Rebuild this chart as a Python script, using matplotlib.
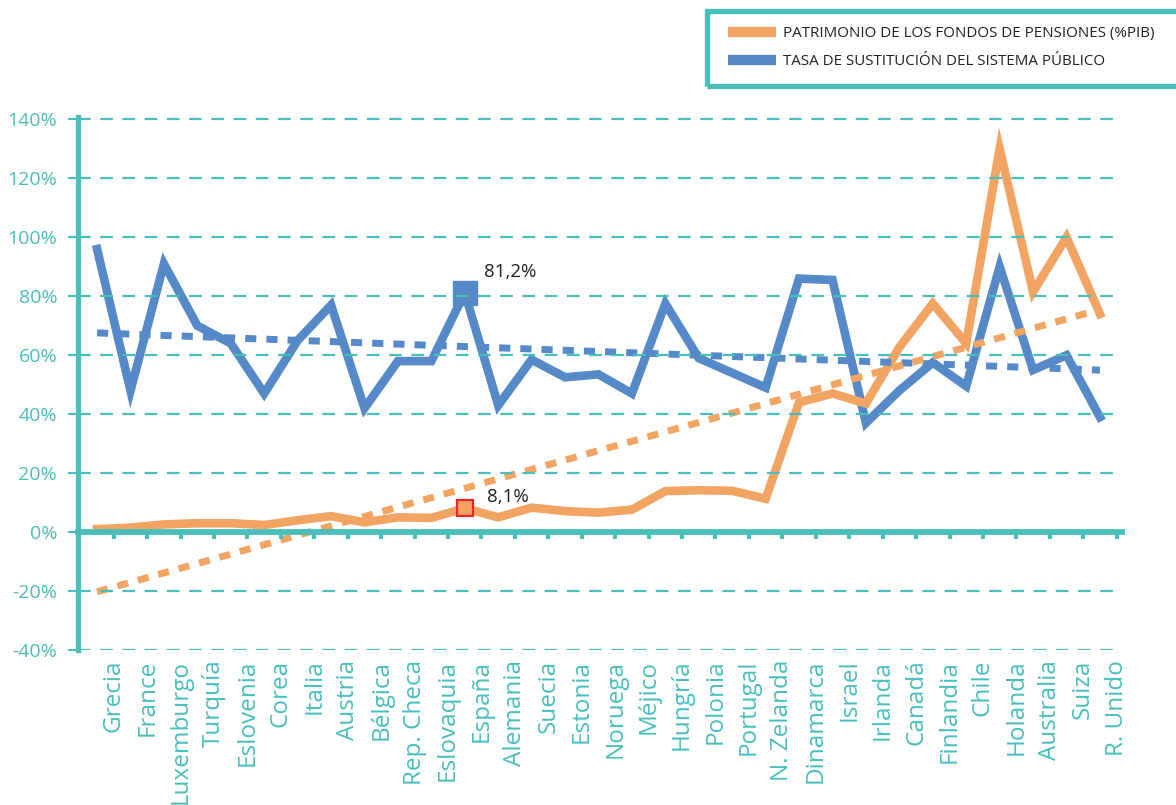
import numpy as np
import matplotlib.pyplot as plt
from matplotlib.lines import Line2D
from matplotlib.patches import Rectangle

# Datos (%)
paises = ['Grecia', 'France', 'Luxemburgo', 'Turquía', 'Eslovenia', 'Corea',
          'Italia', 'Austria', 'Bélgica', 'Rep. Checa', 'Eslovaquia', 'España',
          'Alemania', 'Suecia', 'Estonia', 'Noruega', 'Méjico', 'Hungría',
          'Polonia', 'Portugal', 'N. Zelanda', 'Dinamarca', 'Israel', 'Irlanda',
          'Canadá', 'Finlandia', 'Chile', 'Holanda', 'Australia', 'Suiza',
          'R. Unido']
patrimonio = [1.0, 1.5, 2.6, 3.0, 3.0, 2.4, 4.0, 5.4, 3.3, 5.0, 4.8, 8.1,
              5.0, 8.3, 7.1, 6.6, 7.6, 13.9, 14.2, 14.0, 11.3, 44.0, 47.0,
              43.6, 62.7, 77.5, 64.0, 130.0, 81.5, 100.0, 74.0]
sustitucion = [96.0, 48.0, 91.0, 70.0, 64.0, 47.0, 65.0, 77.0, 42.0, 58.0,
               58.0, 81.2, 43.0, 58.5, 52.5, 53.5, 47.0, 77.5, 59.0, 54.0,
               49.0, 86.0, 85.5, 37.0, 48.0, 57.5, 49.5, 90.0, 55.0, 60.0,
               39.0]
yticks = [-40, -20, 0, 20, 40, 60, 80, 100, 120, 140]
destacado = 'España'

leyenda = ['PATRIMONIO DE LOS FONDOS DE PENSIONES (%PIB)',
           'TASA DE SUSTITUCIÓN DEL SISTEMA PÚBLICO']

teal = '#49BFBB'
naranja = '#F2A463'
azul = '#5589C7'
texto = '#231F20'

plt.rcParams['font.family'] = ['Open Sans', 'DejaVu Sans']

W, H = 1176, 805
fig = plt.figure(figsize=(W / 100, H / 100), dpi=100)
ax = fig.add_axes([78 / W, 155 / H, 1044 / W, 533 / H])

x = np.arange(len(paises))

# Series
ax.plot(x, sustitucion, color=azul, lw=6.2, solid_joinstyle='miter', zorder=2)
ax.plot(x, patrimonio, color=naranja, lw=6.2, solid_joinstyle='miter', zorder=2)

# Lineas de tendencia (ajuste lineal)
for serie, color in [(sustitucion, azul), (patrimonio, naranja)]:
    coef = np.polyfit(x, serie, 1)
    ax.plot(x, np.polyval(coef, x), color=color, lw=5,
            linestyle=(0, (1.6, 1.45)), dash_capstyle='butt', zorder=2)

# Marcadores de España
i = paises.index(destacado)
ax.plot(i, sustitucion[i], marker='s', ms=17, color=azul, zorder=2)
ax.plot(i, patrimonio[i], marker='s', ms=11, mfc=naranja, mec='#E8262A',
        mew=1.6, zorder=2)
ax.annotate(f'{sustitucion[i]:.1f}%'.replace('.', ','), xy=(i, sustitucion[i]),
            xytext=(14, 15), textcoords='offset points', fontsize=13.5,
            color=texto, va='center', ha='left')
ax.annotate(f'{patrimonio[i]:.1f}%'.replace('.', ','), xy=(i, patrimonio[i]),
            xytext=(16, 8), textcoords='offset points', fontsize=13.5,
            color=texto, va='center', ha='left')

# Ejes
ax.set_xlim(-0.57, 30.66)
ax.set_ylim(-40, 140.8)
ax.set_yticks(yticks)
ax.set_yticklabels([f'{v}%' for v in yticks])
ax.tick_params(axis='y', colors=teal, length=7, width=1.5, pad=8,
               labelsize=14, labelcolor=teal)
ax.set_axisbelow(False)
ax.yaxis.grid(True, color=teal, lw=1.6, linestyle=(0, (5.7, 4.3)))

for s in ['top', 'right']:
    ax.spines[s].set_visible(False)
ax.spines['left'].set_color(teal)
ax.spines['left'].set_linewidth(3.8)
ax.spines['bottom'].set_position(('data', 0))
ax.spines['bottom'].set_color(teal)
ax.spines['bottom'].set_linewidth(4.2)

ax.set_xticks(x + 0.5)
ax.tick_params(axis='x', colors=teal, length=5, width=3, labelbottom=False)

sec = ax.secondary_xaxis('bottom')
sec.set_xticks(x + 0.5)
sec.set_xticklabels(paises, rotation=90)
sec.tick_params(length=0, pad=7, labelsize=17.5, labelcolor=teal)
sec.spines['bottom'].set_visible(False)

# Leyenda
fig.patches.append(Rectangle((707 / W, 1 - 86 / H), 500 / W, 75 / H,
                             transform=fig.transFigure, fill=False,
                             edgecolor=teal, lw=3.8))
handles = [Line2D([], [], color=naranja, lw=7.5, solid_capstyle='butt'),
           Line2D([], [], color=azul, lw=7.5, solid_capstyle='butt')]
fig.legend(handles, leyenda, loc='upper left',
           bbox_to_anchor=(728 / W, 1 - 26 / H), frameon=False,
           fontsize=10.9, labelcolor=texto, handlelength=3.2,
           handletextpad=0.45, labelspacing=0.85, borderpad=0,
           borderaxespad=0)

fig.savefig('out.png', dpi=100)
